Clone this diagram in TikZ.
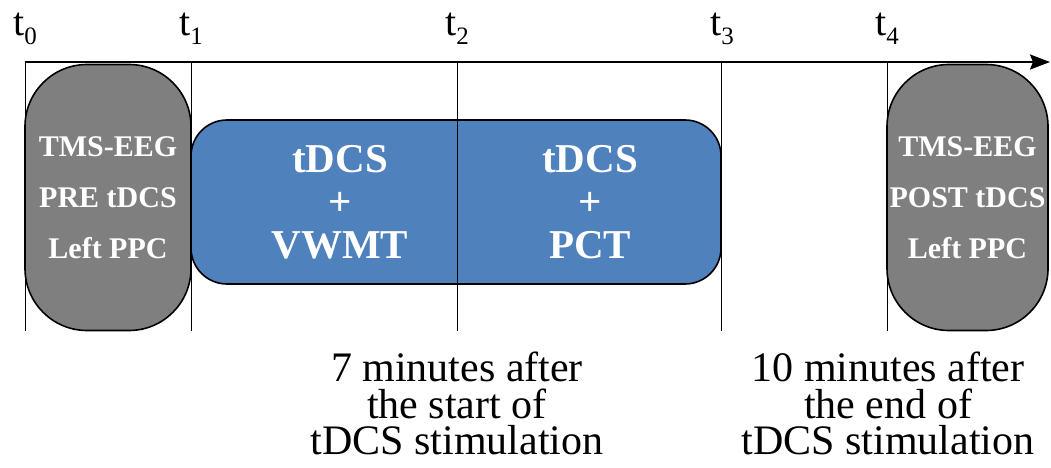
\documentclass[tikz,border=0pt]{standalone}
\usepackage{fontspec}
\setmainfont{Liberation Serif}
\usetikzlibrary{arrows.meta}
\definecolor{boxgray}{HTML}{7F7F7F}
\definecolor{boxblue}{HTML}{4F81BD}
\newcommand{\tlab}[1]{t\raisebox{-9pt}{\fontsize{25}{25}\selectfont #1}}
\tikzset{
  grayphase/.style={draw=black, line width=1.6pt, fill=boxgray, rounded corners=62pt,
    text=white, font=\bfseries\fontsize{30}{51}\selectfont, align=center, inner sep=0pt},
  bluephase/.style={draw=black, line width=1.6pt, fill=boxblue, rounded corners=36pt},
  bluetext/.style={text=white, font=\bfseries\fontsize{41}{43}\selectfont, align=center, inner sep=0pt},
  tick/.style={draw=black, line width=0.9pt},
  tlabel/.style={font=\fontsize{40}{40}\selectfont, anchor=base, inner sep=0pt},
  note/.style={font=\fontsize{42}{36.5}\selectfont, align=center, inner sep=0pt, anchor=north},
}
\begin{document}
\begin{tikzpicture}[x=1pt,y=-1pt]
\useasboundingbox (0,0) rectangle (1051,468);
% phases
\node[grayphase, minimum width=166pt, minimum height=266pt] (pre) at (108,197.5)
  {TMS-EEG\\PRE tDCS\\Left PPC};
\node[grayphase, minimum width=161pt, minimum height=266pt] (post) at (967.5,197.5)
  {TMS-EEG\\POST tDCS\\Left PPC};
\node[bluephase, minimum width=530pt, minimum height=164pt] (blue) at (456,202) {};
\node[bluetext] (vw) at (340,202) {tDCS\\+\\VWMT};
\node[bluetext] (pc) at (590,202) {tDCS\\+\\PCT};
% timeline coordinates
\coordinate (a0) at (25,62);
\coordinate (aend) at (1050,62);
\foreach \n/\x in {0/25,1/191,2/457,3/721,4/887}{
  \coordinate (top\n) at (\x,62);
  \coordinate (bot\n) at (\x,331);
}
\foreach \n in {0,...,4}{ \draw[tick] (top\n) -- (bot\n); }
\draw[line width=2pt, -{Stealth[length=20pt,width=15pt,inset=3pt]}] (a0) -- (aend);
% labels
\node[tlabel] (l0) at (25,36) {\tlab{0}};
\node[tlabel] (l1) at (191,36) {\tlab{1}};
\node[tlabel] (l2) at (457,36) {\tlab{2}};
\node[tlabel] (l3) at (722,36) {\tlab{3}};
\node[tlabel] (l4) at (887,36) {\tlab{4}};
\node[note] (n1) at (457,352) {7 minutes after\\the start of\\tDCS stimulation};
\node[note] (n2) at (888,352) {10 minutes after\\the end of\\tDCS stimulation};
\end{tikzpicture}
\end{document}
